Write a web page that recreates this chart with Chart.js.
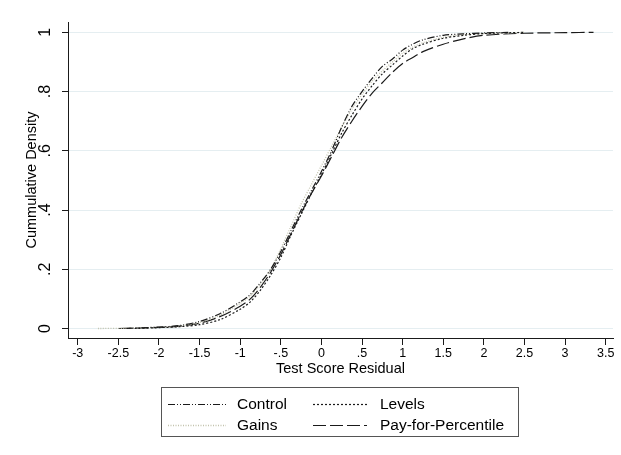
<!DOCTYPE html>
<html>
<head>
<meta charset="utf-8">
<script src="https://cdn.jsdelivr.net/npm/chart.js@4/dist/chart.umd.min.js"></script>
<style>
  html, body { margin: 0; padding: 0; background: #ffffff; }
  #wrap { width: 621px; height: 455px; position: relative; }
</style>
</head>
<body>
<div id="wrap"><canvas id="c" width="621" height="455"></canvas></div>
<script>
// ---- Data ----
const seriesNames = ["Control", "Levels", "Gains", "Pay-for-Percentile"];

const controlX = [-2.4, -2.0, -1.75, -1.5, -1.25, -1.0, -0.875, -0.75, -0.625, -0.5, -0.375, -0.25, -0.125, 0, 0.125, 0.25, 0.375, 0.5, 0.625, 0.75, 0.875, 1.0, 1.125, 1.25, 1.5, 1.75, 2.0, 2.3];
const controlY = [0, 0.005, 0.01, 0.024, 0.05, 0.09, 0.115, 0.155, 0.2, 0.26, 0.33, 0.40, 0.465, 0.53, 0.6, 0.68, 0.75, 0.8, 0.845, 0.885, 0.91, 0.94, 0.96, 0.975, 0.99, 0.995, 0.998, 1];

const levelsX = [-2.3, -2.0, -1.75, -1.5, -1.25, -1.0, -0.875, -0.75, -0.625, -0.5, -0.375, -0.25, -0.125, 0, 0.125, 0.25, 0.375, 0.5, 0.625, 0.75, 0.875, 1.0, 1.125, 1.25, 1.5, 1.75, 2.0, 2.5];
const levelsY = [0, 0.003, 0.006, 0.013, 0.03, 0.065, 0.09, 0.13, 0.18, 0.24, 0.315, 0.385, 0.455, 0.52, 0.59, 0.66, 0.72, 0.775, 0.82, 0.86, 0.89, 0.92, 0.945, 0.96, 0.98, 0.99, 0.996, 1];

const gainsX = [-2.75, -2.4, -2.0, -1.75, -1.5, -1.25, -1.0, -0.875, -0.75, -0.625, -0.5, -0.375, -0.25, -0.125, 0, 0.125, 0.25, 0.375, 0.5, 0.625, 0.75, 0.875, 1.0, 1.125, 1.25, 1.5, 1.75, 2.0, 2.5];
const gainsY = [0, 0.001, 0.004, 0.009, 0.02, 0.045, 0.085, 0.11, 0.15, 0.2, 0.27, 0.345, 0.42, 0.485, 0.55, 0.615, 0.68, 0.74, 0.79, 0.835, 0.87, 0.9, 0.93, 0.95, 0.965, 0.983, 0.992, 0.996, 1];

const pfpX = [-2.5, -2.0, -1.75, -1.5, -1.25, -1.0, -0.875, -0.75, -0.625, -0.5, -0.375, -0.25, -0.125, 0, 0.125, 0.25, 0.375, 0.5, 0.625, 0.75, 0.875, 1.0, 1.125, 1.25, 1.5, 1.75, 2.0, 2.5, 3.0, 3.35];
const pfpY = [0, 0.004, 0.008, 0.018, 0.04, 0.075, 0.1, 0.14, 0.19, 0.25, 0.32, 0.39, 0.455, 0.515, 0.58, 0.645, 0.7, 0.75, 0.795, 0.83, 0.865, 0.895, 0.915, 0.935, 0.96, 0.978, 0.99, 0.997, 0.999, 1];

const xTickValues = [-3, -2.5, -2, -1.5, -1, -0.5, 0, 0.5, 1, 1.5, 2, 2.5, 3, 3.5];
const xTickLabels = ["-3", "-2.5", "-2", "-1.5", "-1", "-.5", "0", ".5", "1", "1.5", "2", "2.5", "3", "3.5"];
const yTickValues = [0, 0.2, 0.4, 0.6, 0.8, 1];
const yTickLabels = ["0", ".2", ".4", ".6", ".8", "1"];

const xTitle = "Test Score Residual";
const yTitle = "Cummulative Density";

// ---- Build ----
function pts(xs, ys) { return xs.map((x, i) => ({ x: x, y: ys[i] })); }

const FONT = "'Liberation Sans', Arial, Helvetica, sans-serif";
const ink = '#1a1a1a';

const datasets = [
  { label: seriesNames[0], data: pts(controlX, controlY), borderColor: ink, borderWidth: 1.2, borderDash: [7, 2, 1, 2, 1, 2] },
  { label: seriesNames[1], data: pts(levelsX, levelsY), borderColor: ink, borderWidth: 1.2, borderDash: [2, 2] },
  { label: seriesNames[2], data: pts(gainsX, gainsY), borderColor: '#c2c2ac', borderWidth: 1.3, borderDash: [1, 1.5] },
  { label: seriesNames[3], data: pts(pfpX, pfpY), borderColor: ink, borderWidth: 1.2, borderDash: [13, 4] }
].map(d => Object.assign(d, { pointRadius: 0, fill: false, tension: 0.3, showLine: true }));

const yLabelPlugin = {
  id: 'yLabels',
  afterDraw(chart) {
    const ctx = chart.ctx;
    const ys = chart.scales.y;
    ctx.save();
    ctx.fillStyle = '#000';
    ctx.font = "16px " + FONT;
    ctx.textAlign = 'center';
    ctx.textBaseline = 'middle';
    yTickValues.forEach((v, i) => {
      const py = ys.getPixelForValue(v);
      ctx.save();
      ctx.translate(46, py);
      ctx.rotate(-Math.PI / 2);
      ctx.fillText(yTickLabels[i], 0, 0);
      ctx.restore();
    });
    ctx.restore();
  }
};

const legendPlugin = {
  id: 'customLegend',
  afterDraw(chart) {
    const ctx = chart.ctx;
    ctx.save();
    ctx.strokeStyle = '#555';
    ctx.lineWidth = 1;
    ctx.strokeRect(161.5, 387.5, 357, 49);
    const rows = [404, 425];
    const cols = [{ x0: 168, x1: 226, tx: 237 }, { x0: 313, x1: 367, tx: 380 }];
    const order = [0, 1, 2, 3];
    ctx.font = "15.5px " + FONT;
    ctx.textBaseline = 'middle';
    ctx.textAlign = 'left';
    order.forEach((di, k) => {
      const ds = chart.data.datasets[di];
      const r = rows[Math.floor(k / 2)];
      const c = cols[k % 2];
      ctx.beginPath();
      ctx.setLineDash(ds.borderDash);
      ctx.strokeStyle = ds.borderColor;
      ctx.lineWidth = ds.borderWidth;
      ctx.moveTo(c.x0, r + 0.5);
      ctx.lineTo(c.x1, r + 0.5);
      ctx.stroke();
      ctx.setLineDash([]);
      ctx.fillStyle = '#000';
      ctx.fillText(ds.label, c.tx, r + 1);
    });
    ctx.restore();
  }
};

new Chart(document.getElementById('c'), {
  type: 'scatter',
  data: { datasets: datasets },
  plugins: [yLabelPlugin, legendPlugin],
  options: {
    responsive: false,
    animation: false,
    devicePixelRatio: 1,
    layout: { padding: { left: 0, right: 8, top: 22, bottom: 77 } },
    plugins: { legend: { display: false }, tooltip: { enabled: false } },
    scales: {
      x: {
        type: 'linear',
        min: -3.12, max: 3.59,
        afterBuildTicks(s) { s.ticks = xTickValues.map(v => ({ value: v })); },
        afterFit(s) { s.height = 40; },
        grid: { drawOnChartArea: false, drawTicks: true, tickLength: 7, tickColor: ink, tickWidth: 1 },
        border: { display: true, color: ink, width: 1 },
        ticks: {
          autoSkip: false, maxRotation: 0, minRotation: 0, padding: 1,
          color: '#000', font: { family: FONT, size: 12.5 },
          callback(v) { const i = xTickValues.indexOf(v); return i >= 0 ? xTickLabels[i] : ''; }
        },
        title: { display: true, text: xTitle, color: '#000', font: { family: FONT, size: 14.5 }, padding: { top: 0, bottom: 0.6 } }
      },
      y: {
        type: 'linear',
        min: -0.032, max: 1.035,
        afterBuildTicks(s) { s.ticks = yTickValues.map(v => ({ value: v })); },
        afterFit(s) { s.width = 68; },
        grid: { color: '#e5eef1', lineWidth: 1, drawTicks: true, tickLength: 6, tickColor: ink, tickWidth: 1 },
        border: { display: true, color: ink, width: 1 },
        ticks: { display: false },
        title: { display: true, text: yTitle, color: '#000', font: { family: FONT, size: 14.5 }, padding: { top: 23.6, bottom: 0 } }
      }
    }
  }
});
</script>
</body>
</html>
